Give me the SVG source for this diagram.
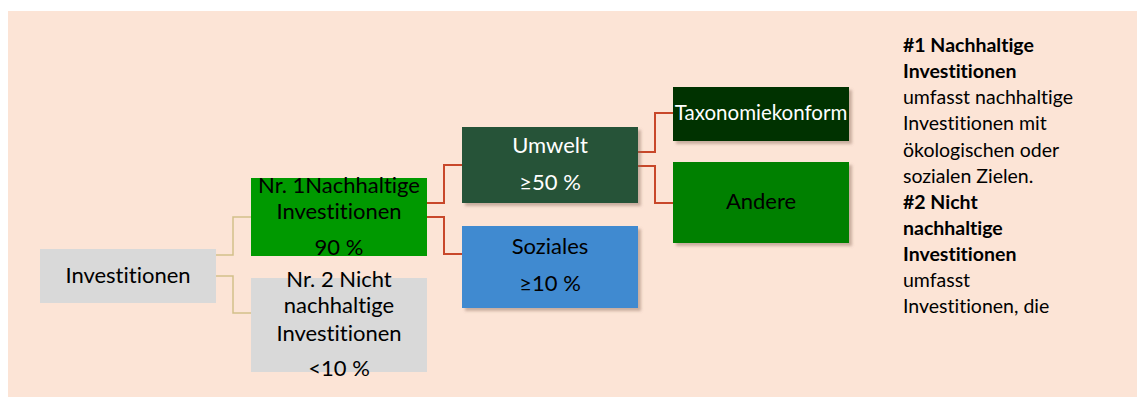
<svg xmlns="http://www.w3.org/2000/svg" width="1138" height="397" viewBox="0 0 1138 397">
<style>
text{font-variant-ligatures:none;font-feature-settings:"liga" 0}
.t{font-family:Lato,"Open Sans",sans-serif;font-size:22px;text-anchor:middle;fill:#000}
.tx{font-size:20.5px}
.w{fill:#fff}
.side{font-family:Lato,"Open Sans",sans-serif;font-size:19.5px;fill:#000}
.b{font-weight:bold}
.gold{fill:none;stroke:#d2c08a;stroke-width:1.5}
.red{fill:none;stroke:#c8472a;stroke-width:2}
</style>
<defs>
<filter id="sh" x="-10%" y="-10%" width="130%" height="130%">
<feDropShadow dx="3" dy="3" stdDeviation="1.5" flood-color="#8a6a5a" flood-opacity="0.45"/>
</filter>
</defs>
<rect x="8" y="11" width="1129" height="386" fill="#fce4d6"/>
<g id="connectors">
<polyline class="gold" points="216,255 233,255 233,217 251,217"/>
<polyline class="gold" points="216,276 233,276 233,313 251,313"/>
<polyline class="red" points="427,203 444,203 444,165 462,165"/>
<polyline class="red" points="427,217 444,217 444,254 462,254"/>
<polyline class="red" points="638,152 655,152 655,113 673,113"/>
<polyline class="red" points="638,166 655,166 655,203 673,203"/>
</g>
<g id="investitionen">
<rect x="40" y="249" width="176" height="54" fill="#d9d9d9"/>
<text class="t" x="128" y="283">Investitionen</text>
</g>
<g id="nr1">
<rect x="251" y="178" width="176" height="78" fill="#009900"/>
<text class="t" x="339" y="193">Nr. 1Nachhaltige</text>
<text class="t" x="339" y="219">Investitionen</text>
<text class="t" x="339" y="255">90 %</text>
</g>
<g id="nr2">
<rect x="251" y="278" width="176" height="94" fill="#d9d9d9"/>
<text class="t" x="339" y="287">Nr. 2 Nicht</text>
<text class="t" x="339" y="313">nachhaltige</text>
<text class="t" x="339" y="341">Investitionen</text>
<text class="t" x="339" y="376">&lt;10 %</text>
</g>
<g id="umwelt">
<rect x="462" y="127" width="176" height="76" fill="#255339" filter="url(#sh)"/>
<text class="t w" x="550" y="153">Umwelt</text>
<text class="t w" x="550" y="190">≥50 %</text>
</g>
<g id="soziales">
<rect x="462" y="226" width="176" height="82" fill="#408ad0" filter="url(#sh)"/>
<text class="t" x="550" y="254">Soziales</text>
<text class="t" x="550" y="291">≥10 %</text>
</g>
<g id="taxonomiekonform">
<rect x="673" y="87" width="176" height="54" fill="#003300" filter="url(#sh)"/>
<text class="t tx w" x="761" y="120">Taxonomiekonform</text>
</g>
<g id="andere">
<rect x="673" y="162" width="176" height="81" fill="#008000" filter="url(#sh)"/>
<text class="t" x="761" y="209">Andere</text>
</g>
<g id="legend">
<text class="side b" x="903" y="52">#1 Nachhaltige</text>
<text class="side b" x="903" y="78">Investitionen</text>
<text class="side" x="903" y="104">umfasst nachhaltige</text>
<text class="side" x="903" y="130">Investitionen mit</text>
<text class="side" x="903" y="157">ökologischen oder</text>
<text class="side" x="903" y="183">sozialen Zielen.</text>
<text class="side b" x="903" y="209">#2 Nicht</text>
<text class="side b" x="903" y="235">nachhaltige</text>
<text class="side b" x="903" y="261">Investitionen</text>
<text class="side" x="903" y="287">umfasst</text>
<text class="side" x="903" y="313">Investitionen, die</text>
</g>
</svg>
